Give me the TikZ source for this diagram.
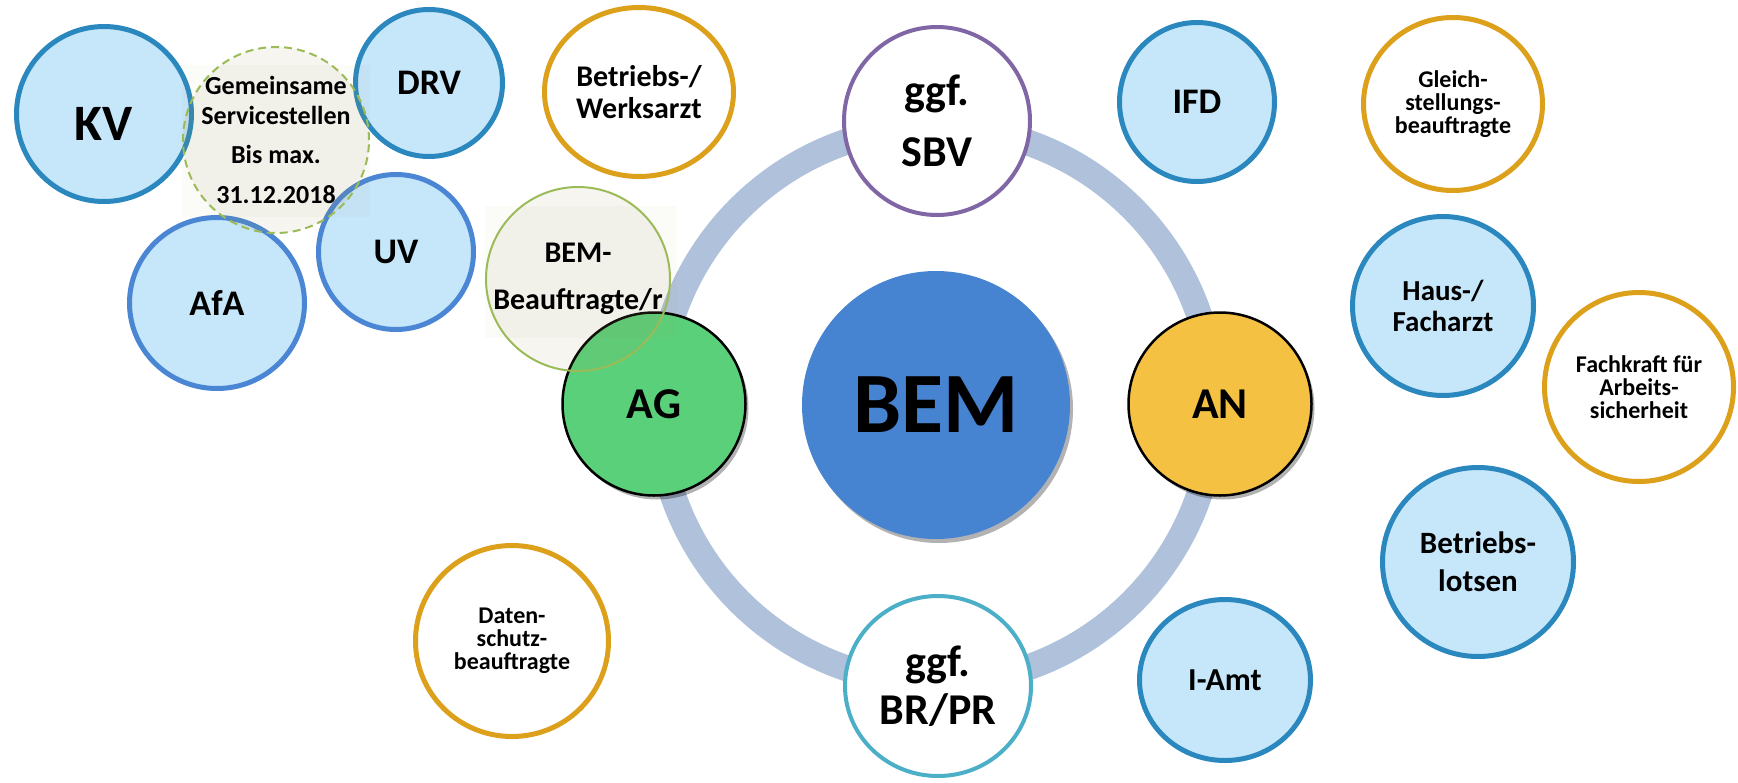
\documentclass[tikz,border=0pt]{standalone}
\usepackage{fontspec}
\setmainfont{Carlito}
\usetikzlibrary{shapes.geometric,shadows}

\definecolor{paleblue}{HTML}{C6E6FA}
\definecolor{deepblue}{HTML}{2A88BE}
\definecolor{midblue}{HTML}{4A86D3}
\definecolor{amber}{HTML}{DCA01B}
\definecolor{lilac}{HTML}{8066A5}
\definecolor{brteal}{HTML}{4CAFC8}
\definecolor{aggreen}{HTML}{5BD07A}
\definecolor{anyellow}{HTML}{F4C143}
\definecolor{bemblue}{HTML}{4683D1}
\definecolor{ringblue}{HTML}{B0C1DB}
\definecolor{sslgreen}{HTML}{9BBB59}
\definecolor{sepia}{HTML}{9B8E52}

\tikzset{
  bubble/.style={ellipse, inner sep=-40pt, align=center, text=black},
  dims/.style 2 args={minimum width=#1, minimum height=#2},
  fsz/.style 2 args={font=\bfseries\fontsize{#1}{#2}\selectfont},
  carrier/.style={bubble, draw=deepblue, line width=5pt, fill=paleblue},
  agency/.style={bubble, draw=midblue, line width=5pt, fill=paleblue},
  inhouse/.style={bubble, draw=amber, line width=5pt, fill=white},
  softshadow/.style={drop shadow={shadow xshift=3pt, shadow yshift=-4pt, opacity=.3, fill=black}},
  party/.style={bubble, draw=black, line width=2.5pt, softshadow},
  overlay/.style={bubble, draw=sslgreen, line width=2pt, fill=sepia, fill opacity=.09, text opacity=1},
  ringline/.style={draw=ringblue, line width=26pt}
}

\begin{document}
\begin{tikzpicture}[x=1pt, y=-1pt]
  \useasboundingbox (0,0) rectangle (1738,782);

  % centre with the ring of parties
  \node[bubble, fill=bemblue, softshadow, dims={268}{268}, fsz={86}{86}] (bem) at (936,405) {BEM};
  \draw[ringline] (bem.center) circle [radius=278];

  \node[party, fill=aggreen, dims={183}{183}, fsz={44}{44}] (ag) at (654,404) {AG};
  \node[party, fill=anyellow, dims={183}{183}, fsz={44}{44}] (an) at (1220,404) {AN};
  \node[bubble, draw=lilac, line width=4pt, fill=white, dims={186}{188}, fsz={44}{48}] (sbv) at (937,121) {ggf.\\[13pt]SBV};
  \node[bubble, draw=brteal, line width=4pt, fill=white, dims={186}{180}, fsz={44}{48}] (brpr) at (938,686) {ggf.\\BR/PR};

  % external carriers (left)
  \node[carrier, dims={175}{175}, fsz={51}{51}, text height=53pt, text depth=0pt] (kv) at (104,114) {KV};
  \node[carrier, dims={147}{147}, fsz={36}{36}] (drv) at (429,83) {DRV};
  \node[agency, dims={155}{155}, fsz={36}{36}] (uv) at (396,252) {UV};
  \node[agency, dims={175}{171}, fsz={36}{36}] (afa) at (217,303) {AfA};

  % company roles
  \node[inhouse, dims={189}{169}, fsz={30}{32}] (werksarzt) at (639,92) {Betriebs-/\\Werksarzt};
  \node[inhouse, dims={179}{173}, fsz={24}{23}] (gleich) at (1453,104) {Gleich-\\stellungs-\\beauftragte};
  \node[inhouse, dims={189}{189}, fsz={24}{23}] (fachkraft) at (1639,387) {Fachkraft für\\Arbeits-\\sicherheit};
  \node[inhouse, dims={193}{191}, fsz={24}{23}] (datenschutz) at (512,641) {Daten-\\schutz-\\beauftragte};

  % external services (right)
  \node[carrier, dims={155}{159}, fsz={36}{36}] (ifd) at (1197,102) {IFD};
  \node[carrier, dims={181}{179}, fsz={29}{31}] (haus) at (1443,306) {Haus-/\\Facharzt};
  \node[carrier, dims={191}{189}, fsz={31}{38}] (lotsen) at (1478,562) {Betriebs-\\lotsen};
  \node[carrier, dims={171}{161}, fsz={32}{32}] (iamt) at (1225,680) {I-Amt};

  % translucent overlays
  \fill[sepia, opacity=.04] (182,65) rectangle (370,217);
  \node[overlay, dash pattern=on 8pt off 5pt, dims={186}{186}, fsz={26}{30}] (ssl) at (276,140)
    {Gemeinsame\\Servicestellen\\[9pt]Bis max.\\[10pt]31.12.2018};
  \fill[sepia, opacity=.04] (485,206) rectangle (677,338);
  \node[overlay, dims={184}{184}, fsz={30}{32}] (bembeauftragt) at (578,279) {BEM-\\[15pt]Beauftragte/r};
\end{tikzpicture}
\end{document}
